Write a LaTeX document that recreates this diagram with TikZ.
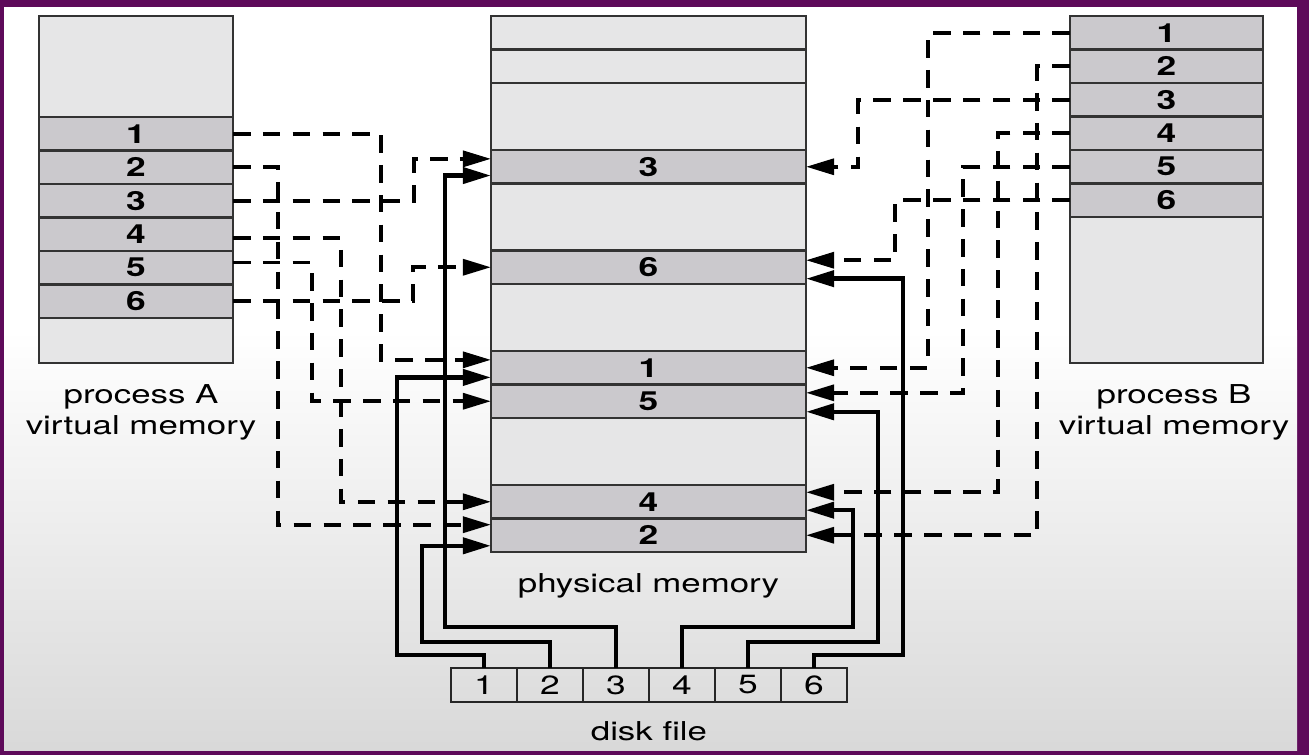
\documentclass[tikz,border=0pt]{standalone}
\usepackage{fontspec}
\setmainfont{TeX Gyre Heros}
\usepackage{graphicx}
\usetikzlibrary{arrows.meta,positioning}
\definecolor{frame}{RGB}{94,10,90}
\definecolor{slotgray}{RGB}{203,201,205}
\definecolor{panegray}{RGB}{230,230,231}
\newcommand{\widetxt}[1]{\scalebox{1.34}[1]{#1}}

\begin{document}
\begin{tikzpicture}[
  x=0.02cm, y=-0.02cm,
  pane/.style={draw=black!80, fill=panegray, line width=1.2pt, inner sep=0pt, outer sep=0pt},
  slot/.style={draw=black!80, fill=slotgray, line width=1.2pt, inner sep=0pt, outer sep=0pt,
               minimum height=0.67cm, font=\fontsize{15}{18}\selectfont\bfseries},
  aslot/.style={slot, minimum width=3.88cm},
  pslot/.style={slot, minimum width=6.3cm},
  bslot/.style={slot, minimum width=3.86cm},
  cell/.style={draw=black!85, line width=1.2pt, inner sep=0pt, outer sep=0pt,
               minimum width=1.32cm, minimum height=0.68cm, font=\fontsize{15}{18}\selectfont},
  lbl/.style={align=center, inner sep=0pt, font=\fontsize{14.8}{17.6}\selectfont},
  ptr/.style={line width=2.2pt, dash pattern=on 10pt off 7pt, -{Triangle[length=16pt, width=9pt]}},
  load/.style={line width=2.6pt, -{Triangle[length=16pt, width=9pt]}}
]
\useasboundingbox (0,0) rectangle (1309,755);
\fill[frame] (0,0) rectangle (1309,755);
\fill[white] (4,7) rectangle (1297,330);
\shade[top color=white, bottom color=black!15] (4,330) rectangle (1297,750);

\node[pane, minimum width=3.88cm, minimum height=6.94cm] (procA) at (136,189.5) {};
\node[pane, minimum width=6.3cm, minimum height=10.72cm] (phys) at (648.5,284) {};
\node[pane, minimum width=3.86cm, minimum height=6.94cm] (procB) at (1166.5,189.5) {};
\draw[line width=1.2pt, black!80] ([yshift=-0.67cm]phys.north west) -- ([yshift=-0.67cm]phys.north east);
\draw[line width=1.2pt, black!80] ([yshift=-1.34cm]phys.north west) -- ([yshift=-1.34cm]phys.north east);

\node[aslot] (a1) at (136,133.75) {\widetxt{1}};
\node[aslot, below=0pt of a1] (a2) {\widetxt{2}};
\node[aslot, below=0pt of a2] (a3) {\widetxt{3}};
\node[aslot, below=0pt of a3] (a4) {\widetxt{4}};
\node[aslot, below=0pt of a4] (a5) {\widetxt{5}};
\node[aslot, below=0pt of a5] (a6) {\widetxt{6}};

\node[pslot] (p3) at (648.5,166.75) {\widetxt{3}};
\node[pslot] (p6) at (648.5,267.25) {\widetxt{6}};
\node[pslot] (p1) at (648.5,367.75) {\widetxt{1}};
\node[pslot, below=0pt of p1] (p5) {\widetxt{5}};
\node[pslot] (p4) at (648.5,501.75) {\widetxt{4}};
\node[pslot, below=0pt of p4] (p2) {\widetxt{2}};

\node[bslot] (b1) at (1166.5,32.75) {\widetxt{1}};
\node[bslot, below=0pt of b1] (b2) {\widetxt{2}};
\node[bslot, below=0pt of b2] (b3) {\widetxt{3}};
\node[bslot, below=0pt of b3] (b4) {\widetxt{4}};
\node[bslot, below=0pt of b4] (b5) {\widetxt{5}};
\node[bslot, below=0pt of b5] (b6) {\widetxt{6}};

\node[cell] (d1) at (484,685) {\widetxt{1}};
\node[cell, right=0pt of d1] (d2) {\widetxt{2}};
\node[cell, right=0pt of d2] (d3) {\widetxt{3}};
\node[cell, right=0pt of d3] (d4) {\widetxt{4}};
\node[cell, right=0pt of d4] (d5) {\widetxt{5}};
\node[cell, right=0pt of d5] (d6) {\widetxt{6}};

\node[lbl, below=12pt of procA, xshift=0.1cm] (labA) {\widetxt{process A}\\\widetxt{virtual memory}};
\node[lbl, below=12pt of procB, xshift=0.15cm] (labB) {\widetxt{process B}\\\widetxt{virtual memory}};
\node[lbl, below=12pt of phys] (labP) {\widetxt{physical memory}};
\node[lbl, below=11pt of d3.south east] (labD) {\widetxt{disk file}};

\draw[ptr] (a1.east) -- ++(148,0) |- ([yshift=4.5pt]p1.west);
\draw[ptr] (a2.east) -- ++(45,0) |- ([yshift=6pt]p2.west);
\draw[ptr] (a3.east) -- ++(181,0) |- ([yshift=4.5pt]p3.west);
\draw[ptr] ([yshift=-2.3pt]a4.east) -- ++(108,0) |- (p4.west);
\draw[ptr] ([yshift=3pt]a5.east) -- ++(79,0) |- (p5.west);
\draw[ptr] (a6.east) -- ++(180,0) |- (p6.west);

\draw[ptr] (b1.west) -- ++(-142,0) |- (p1.east);
\draw[ptr] (b2.west) -- ++(-33,0) |- (p2.east);
\draw[ptr] (b3.west) -- ++(-212,0) |- (p3.east);
\draw[ptr] (b4.west) -- ++(-72,0) |- ([yshift=5.4pt]p4.east);
\draw[ptr] (b5.west) -- ++(-107,0) |- ([yshift=4.8pt]p5.east);
\draw[ptr] (b6.west) -- ++(-175,0) |- ([yshift=4pt]p6.east);

\draw[load] (d1.north) -- ++(0,-13) -- ++(-87,0) |- ([yshift=-5.5pt]p1.west);
\draw[load] (d2.north) -- ++(0,-26) -- ++(-128,0) |- ([yshift=-6pt]p2.west);
\draw[load] (d3.north) -- ++(0,-41) -- ++(-171,0) |- ([yshift=-5pt]p3.west);
\draw[load] (d4.north) -- ++(0,-41) -- ++(171,0) |- ([yshift=-4.8pt]p4.east);
\draw[load] (d5.north) -- ++(0,-26) -- ++(130,0) |- ([yshift=-6pt]p5.east);
\draw[load] (d6.north) -- ++(0,-13) -- ++(89,0) |- ([yshift=-6.5pt]p6.east);
\end{tikzpicture}
\end{document}
